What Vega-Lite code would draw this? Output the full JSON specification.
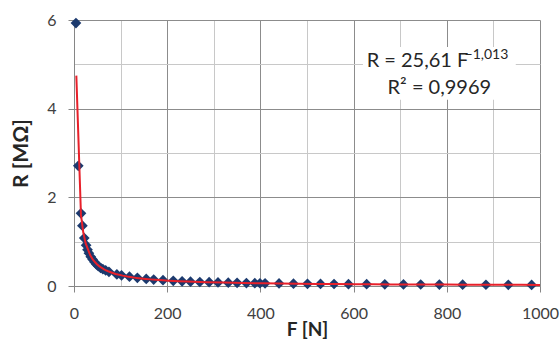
{
  "$schema": "https://vega.github.io/schema/vega-lite/v6.json",
  "width": 466,
  "height": 266,
  "autosize": "none",
  "padding": {"left": 74, "top": 20, "right": 20, "bottom": 53},
  "background": "white",
  "config": {"view": {"stroke": null}, "font": "Lato"},
  "datasets": {
    "pts": [
      {"F": 4.2, "R": 5.93}, {"F": 9.2, "R": 2.71}, {"F": 15, "R": 1.64}, {"F": 18, "R": 1.36},
      {"F": 22, "R": 1.08}, {"F": 26, "R": 0.92}, {"F": 29, "R": 0.82}, {"F": 32, "R": 0.74},
      {"F": 36, "R": 0.66}, {"F": 40, "R": 0.6}, {"F": 44, "R": 0.54}, {"F": 48, "R": 0.49},
      {"F": 52, "R": 0.45}, {"F": 57, "R": 0.41}, {"F": 62, "R": 0.38}, {"F": 68, "R": 0.35},
      {"F": 75, "R": 0.32}, {"F": 92, "R": 0.26}, {"F": 102, "R": 0.24}, {"F": 119, "R": 0.21},
      {"F": 136, "R": 0.185}, {"F": 155, "R": 0.16}, {"F": 171, "R": 0.145}, {"F": 191, "R": 0.13},
      {"F": 213, "R": 0.116}, {"F": 232, "R": 0.106}, {"F": 250, "R": 0.098}, {"F": 270, "R": 0.09},
      {"F": 290, "R": 0.085}, {"F": 309, "R": 0.08}, {"F": 331, "R": 0.075}, {"F": 350, "R": 0.071},
      {"F": 370, "R": 0.067}, {"F": 388, "R": 0.064}, {"F": 399, "R": 0.062}, {"F": 410, "R": 0.06},
      {"F": 440, "R": 0.057}, {"F": 471, "R": 0.053}, {"F": 501, "R": 0.05}, {"F": 529, "R": 0.047},
      {"F": 558, "R": 0.045}, {"F": 589, "R": 0.042}, {"F": 628, "R": 0.04}, {"F": 667, "R": 0.037},
      {"F": 707, "R": 0.035}, {"F": 744, "R": 0.034}, {"F": 784, "R": 0.032}, {"F": 834, "R": 0.03},
      {"F": 884, "R": 0.028}, {"F": 932, "R": 0.027}, {"F": 982, "R": 0.025}
    ]
  },
  "layer": [
    {
      "data": {"name": "pts"},
      "mark": {"type": "point", "shape": "diamond", "filled": true, "size": 115, "opacity": 1, "color": "#1c3a6e", "clip": false},
      "encoding": {
        "x": {
          "field": "F", "type": "quantitative",
          "scale": {"domain": [0, 1000], "nice": false, "zero": true},
          "axis": {
            "title": "F [N]",
            "values": [0,50,100,150,200,250,300,350,400,450,500,550,600,650,700,750,800,850,900,950,1000],
            "labelExpr": "datum.value % 200 === 0 ? format(datum.value, 'd') : ''",
            "labelOverlap": false, "labelFlush": false, "labelBound": false,
            "labelFont": "Lato", "labelFontSize": 16, "labelColor": "#404040", "labelPadding": 13,
            "tickSize": 6, "tickColor": "#868686",
            "tickOpacity": {"condition": {"test": "datum.value % 200 === 0", "value": 1}, "value": 0},
            "grid": true,
            "gridColor": {"condition": {"test": "datum.value % 200 === 0", "value": "#8c8c8c"}, "value": "#c8c8c8"},
            "gridWidth": 1,
            "domainColor": "#868686",
            "titleFont": "Lato", "titleFontSize": 19, "titleFontWeight": "bold", "titleColor": "#262626", "titlePadding": -1
          }
        },
        "y": {
          "field": "R", "type": "quantitative",
          "scale": {"domain": [0, 6], "nice": false},
          "axis": {
            "title": "R [MΩ]",
            "values": [0,0.5,1,1.5,2,2.5,3,3.5,4,4.5,5,5.5,6],
            "labelExpr": "datum.value % 2 === 0 ? datum.label : ''",
            "labelOverlap": false, "labelFlush": false, "labelBound": false,
            "labelFont": "Lato", "labelFontSize": 16, "labelColor": "#404040", "labelPadding": 12,
            "tickSize": 6, "tickColor": "#868686",
            "tickOpacity": {"condition": {"test": "datum.value % 2 === 0", "value": 1}, "value": 0},
            "grid": true,
            "gridColor": {"condition": {"test": "datum.value % 2 === 0", "value": "#8c8c8c"}, "value": "#c8c8c8"},
            "gridWidth": 1,
            "domainColor": "#868686",
            "titleFont": "Lato", "titleFontSize": 21, "titleFontWeight": "bold", "titleColor": "#262626", "titlePadding": 15
          }
        }
      }
    },
    {
      "data": {"name": "pts"},
      "transform": [{"regression": "R", "on": "F", "method": "pow", "extent": [5, 1000]}],
      "mark": {"type": "line", "color": "#e8202a", "strokeWidth": 2, "clip": true},
      "encoding": {
        "x": {"field": "F", "type": "quantitative"},
        "y": {"field": "R", "type": "quantitative"}
      }
    },
    {
      "data": {"values": [{}]},
      "mark": {"type": "rect", "fill": "white"},
      "encoding": {
        "x": {"datum": 620, "type": "quantitative"},
        "x2": {"datum": 948},
        "y": {"datum": 5.39, "type": "quantitative"},
        "y2": {"datum": 4.2}
      }
    },
    {
      "data": {"values": [{}]},
      "mark": {"type": "text", "align": "left", "baseline": "alphabetic", "font": "Lato", "fontSize": 20, "color": "#262626"},
      "encoding": {
        "x": {"datum": 628, "type": "quantitative"},
        "y": {"datum": 4.94, "type": "quantitative"},
        "text": {"value": "R = 25,61 F"}
      }
    },
    {
      "data": {"values": [{}]},
      "mark": {"type": "text", "align": "left", "baseline": "alphabetic", "font": "Lato", "fontSize": 14, "color": "#262626"},
      "encoding": {
        "x": {"datum": 838, "type": "quantitative"},
        "y": {"datum": 5.13, "type": "quantitative"},
        "text": {"value": "−1,013"}
      }
    },
    {
      "data": {"values": [{}]},
      "mark": {"type": "text", "align": "center", "baseline": "alphabetic", "font": "Lato", "fontSize": 20, "color": "#262626"},
      "encoding": {
        "x": {"datum": 784, "type": "quantitative"},
        "y": {"datum": 4.33, "type": "quantitative"},
        "text": {"value": "R² = 0,9969"}
      }
    }
  ]
}
